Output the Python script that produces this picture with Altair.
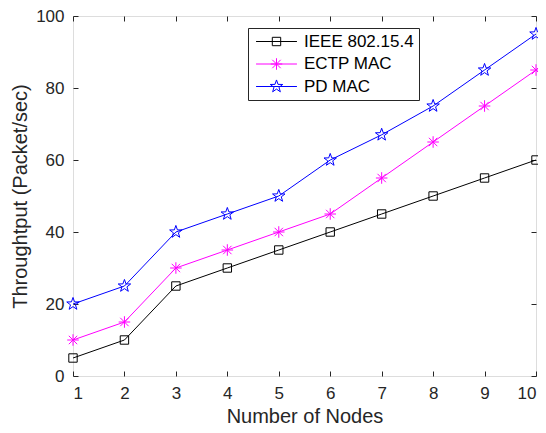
import math
import altair as alt
import pandas as pd

nodes = [1, 2, 3, 4, 5, 6, 7, 8, 9, 10]
series_names = ["IEEE 802.15.4", "ECTP MAC", "PD MAC"]
ieee = [5, 10, 25, 30, 35, 40, 45, 50, 55, 60]
ectp = [10, 15, 30, 35, 40, 45, 55, 65, 75, 85]
pdmac = [20, 25, 40, 45, 50, 60, 67, 75, 85, 95]
colors = ["#000000", "#FF00FF", "#0000FF"]
yticks = [0, 20, 40, 60, 80, 100]

rows = []
for name, vals in zip(series_names, [ieee, ectp, pdmac]):
    for n, v in zip(nodes, vals):
        rows.append({"node": n, "value": v, "series": name})
df = pd.DataFrame(rows)

def star_path(R=1.25, r=0.5):
    pts = []
    for k in range(10):
        ang = math.radians(-90 + 36 * k)
        rad = R if k % 2 == 0 else r
        pts.append((rad * math.cos(ang), rad * math.sin(ang)))
    return "M" + "L".join(f"{x:.3f},{y:.3f}" for x, y in pts) + "Z"

square = "M-0.8,-0.8H0.8V0.8H-0.8Z"
aster = "M-1.1,0H1.1M0,-1.1V1.1M-0.8,-0.8L0.8,0.8M-0.8,0.8L0.8,-0.8"
star = star_path()
marker_paths = [square, aster, star]
L = 3.9
legend_paths = [f"M{-L},0H{L}" + p for p in marker_paths]

W, H = 463, 360
TK = 5
font = "Liberation Sans"
axis_color = "#262626"

def cscale():
    return alt.Scale(domain=series_names, range=colors)
xscale = alt.Scale(domain=[1, 10], nice=False, zero=False)
yscale = alt.Scale(domain=[0, 100], nice=False)

# Bottom/left axes: shifted inward by TK so their outward ticks end on the frame
line = alt.Chart(df).mark_line(strokeWidth=1).encode(
    x=alt.X("node:Q", scale=xscale,
            axis=alt.Axis(values=nodes, orient="bottom", title="Number of Nodes",
                          ticks=True, tickSize=TK, offset=-TK, tickColor=axis_color,
                          domain=False, labelPadding=9, grid=False,
                          labelFontSize=17, titleFontSize=20, titleFontWeight="normal",
                          labelColor=axis_color, titleColor=axis_color, titlePadding=5,
                          labelFont=font, titleFont=font)),
    y=alt.Y("value:Q", scale=yscale,
            axis=alt.Axis(values=yticks, orient="left",
                          title="Throughtput (Packet/sec)",
                          ticks=True, tickSize=TK, offset=-TK, tickColor=axis_color,
                          domain=False,
                          labelPadding=9, grid=False, labelFontSize=17, titleFontSize=20,
                          titleFontWeight="normal", labelColor=axis_color,
                          titleColor=axis_color, titlePadding=5,
                          labelFont=font, titleFont=font)),
    color=alt.Color("series:N", scale=cscale(), legend=None),
    detail="series:N",
)

# Top/right axes: same trick with empty labels, giving the inward ticks of the box
hidden = dict(ticks=True, tickSize=TK, offset=-TK, tickColor=axis_color,
              domain=False, grid=False, labelExpr="''", labelFontSize=10,
              labelPadding=1, title=None)
points = alt.Chart(df).mark_point(filled=False, strokeWidth=1, size=110, opacity=1).encode(
    x=alt.X("node:Q", axis=alt.Axis(values=nodes, orient="top", **hidden)),
    y=alt.Y("value:Q", axis=alt.Axis(values=yticks, orient="right", **hidden)),
    color=alt.Color("series:N", scale=cscale(), legend=None),
    shape=alt.Shape("series:N", scale=alt.Scale(domain=series_names, range=marker_paths),
                    legend=None),
)

leg = dict(title=None, orient="none", legendX=175, legendY=12,
           strokeColor=axis_color, fillColor="white",
           padding=5, symbolOpacity=1, symbolStrokeWidth=1,
           symbolSize=110, symbolOffset=15, labelOffset=19,
           labelFontSize=17, labelFont=font,
           labelColor="#000000", rowPadding=4.5,
           symbolFillColor="transparent")

legend_layer = alt.Chart(df).mark_point(filled=False, strokeWidth=1, size=110,
                                        opacity=0).encode(
    x=alt.X("node:Q", axis=None),
    y=alt.Y("value:Q", axis=None),
    color=alt.Color("series:N", scale=cscale(), legend=alt.Legend(**leg)),
    shape=alt.Shape("series:N", scale=alt.Scale(domain=series_names, range=legend_paths),
                    legend=alt.Legend(**leg)),
)

chart = alt.layer(line, points, legend_layer).resolve_scale(
    shape="independent", color="independent"
).resolve_axis(
    x="independent", y="independent"
).properties(
    width=W, height=H,
    autosize=alt.AutoSizeParams(type="none"),
    padding={"left": 65, "top": 8, "right": 2, "bottom": 53},
).configure_view(stroke=axis_color, strokeWidth=1).configure(background="white")

chart.save("out.html", embed_options={"renderer": "svg", "actions": False})
